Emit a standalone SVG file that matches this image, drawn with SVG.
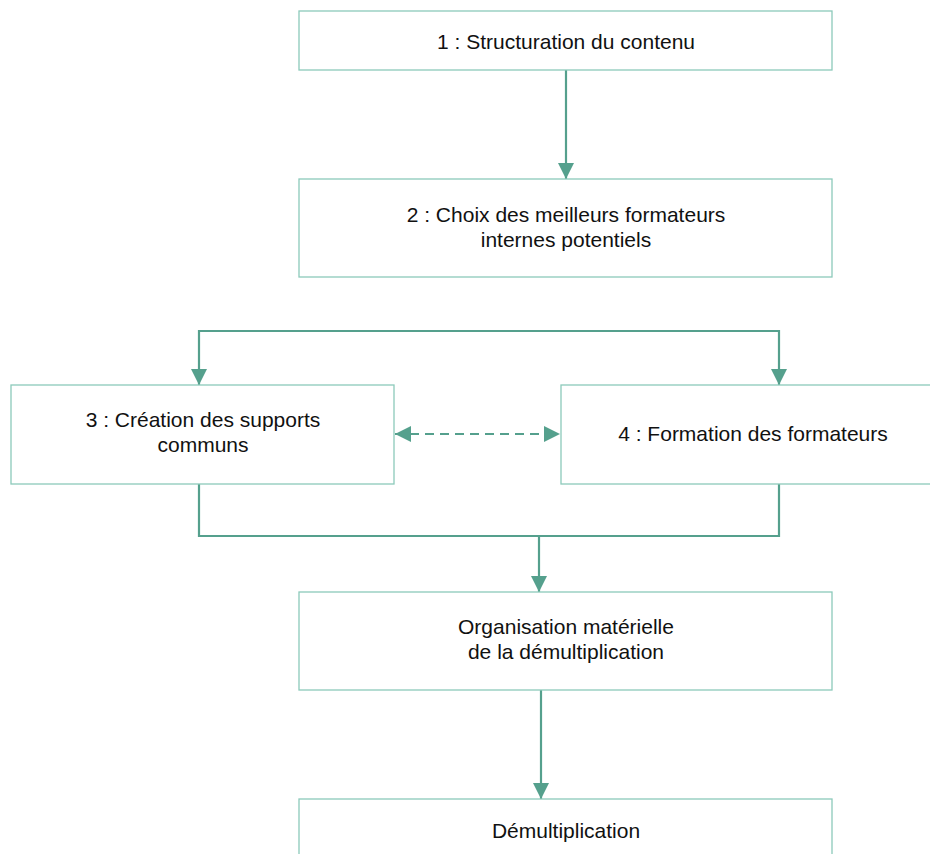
<svg xmlns="http://www.w3.org/2000/svg" width="930" height="854" viewBox="0 0 930 854">
  <style>
    .box { fill: #ffffff; stroke: #8ccabb; stroke-width: 1.3; }
    .lbl { font-family: "Liberation Sans", Arial, sans-serif; font-size: 21px; fill: #111111; text-anchor: middle; }
    .wire { fill: none; stroke: #55a08d; stroke-width: 2.2; }
    .dash { stroke-dasharray: 9 6; }
  </style>
  <defs>
    <marker id="head" viewBox="0 0 16 16" refX="16" refY="8" markerWidth="16" markerHeight="16" markerUnits="userSpaceOnUse" orient="auto-start-reverse">
      <path d="M0,0 L16,8 L0,16 Z" fill="#55a08d"/>
    </marker>
  </defs>

  <g id="connectors">
    <line class="wire" x1="566" y1="70" x2="566" y2="179" marker-end="url(#head)"/>
    <path class="wire" d="M199,385 V331 H779 V385" marker-start="url(#head)" marker-end="url(#head)"/>
    <line class="wire dash" x1="395" y1="434" x2="560" y2="434" marker-start="url(#head)" marker-end="url(#head)"/>
    <path class="wire" d="M199,484 V536 H779 V484"/>
    <line class="wire" x1="539" y1="536" x2="539" y2="592" marker-end="url(#head)"/>
    <line class="wire" x1="541" y1="690" x2="541" y2="799" marker-end="url(#head)"/>
  </g>

  <g id="node1">
    <rect class="box" x="299" y="11" width="533" height="59"/>
    <text class="lbl" x="566" y="49">1 : Structuration du contenu</text>
  </g>
  <g id="node2">
    <rect class="box" x="299" y="179" width="533" height="98"/>
    <text class="lbl" x="566" y="222">2 : Choix des meilleurs formateurs</text>
    <text class="lbl" x="566" y="247">internes potentiels</text>
  </g>
  <g id="node3">
    <rect class="box" x="11" y="385" width="383" height="99"/>
    <text class="lbl" x="203" y="427">3 : Création des supports</text>
    <text class="lbl" x="203" y="452">communs</text>
  </g>
  <g id="node4">
    <rect class="box" x="561" y="385" width="384" height="99"/>
    <text class="lbl" x="753" y="441">4 : Formation des formateurs</text>
  </g>
  <g id="node5">
    <rect class="box" x="299" y="592" width="533" height="98"/>
    <text class="lbl" x="566" y="634">Organisation matérielle</text>
    <text class="lbl" x="566" y="659">de la démultiplication</text>
  </g>
  <g id="node6">
    <rect class="box" x="299" y="799" width="533" height="70"/>
    <text class="lbl" x="566" y="838">Démultiplication</text>
  </g>
</svg>
